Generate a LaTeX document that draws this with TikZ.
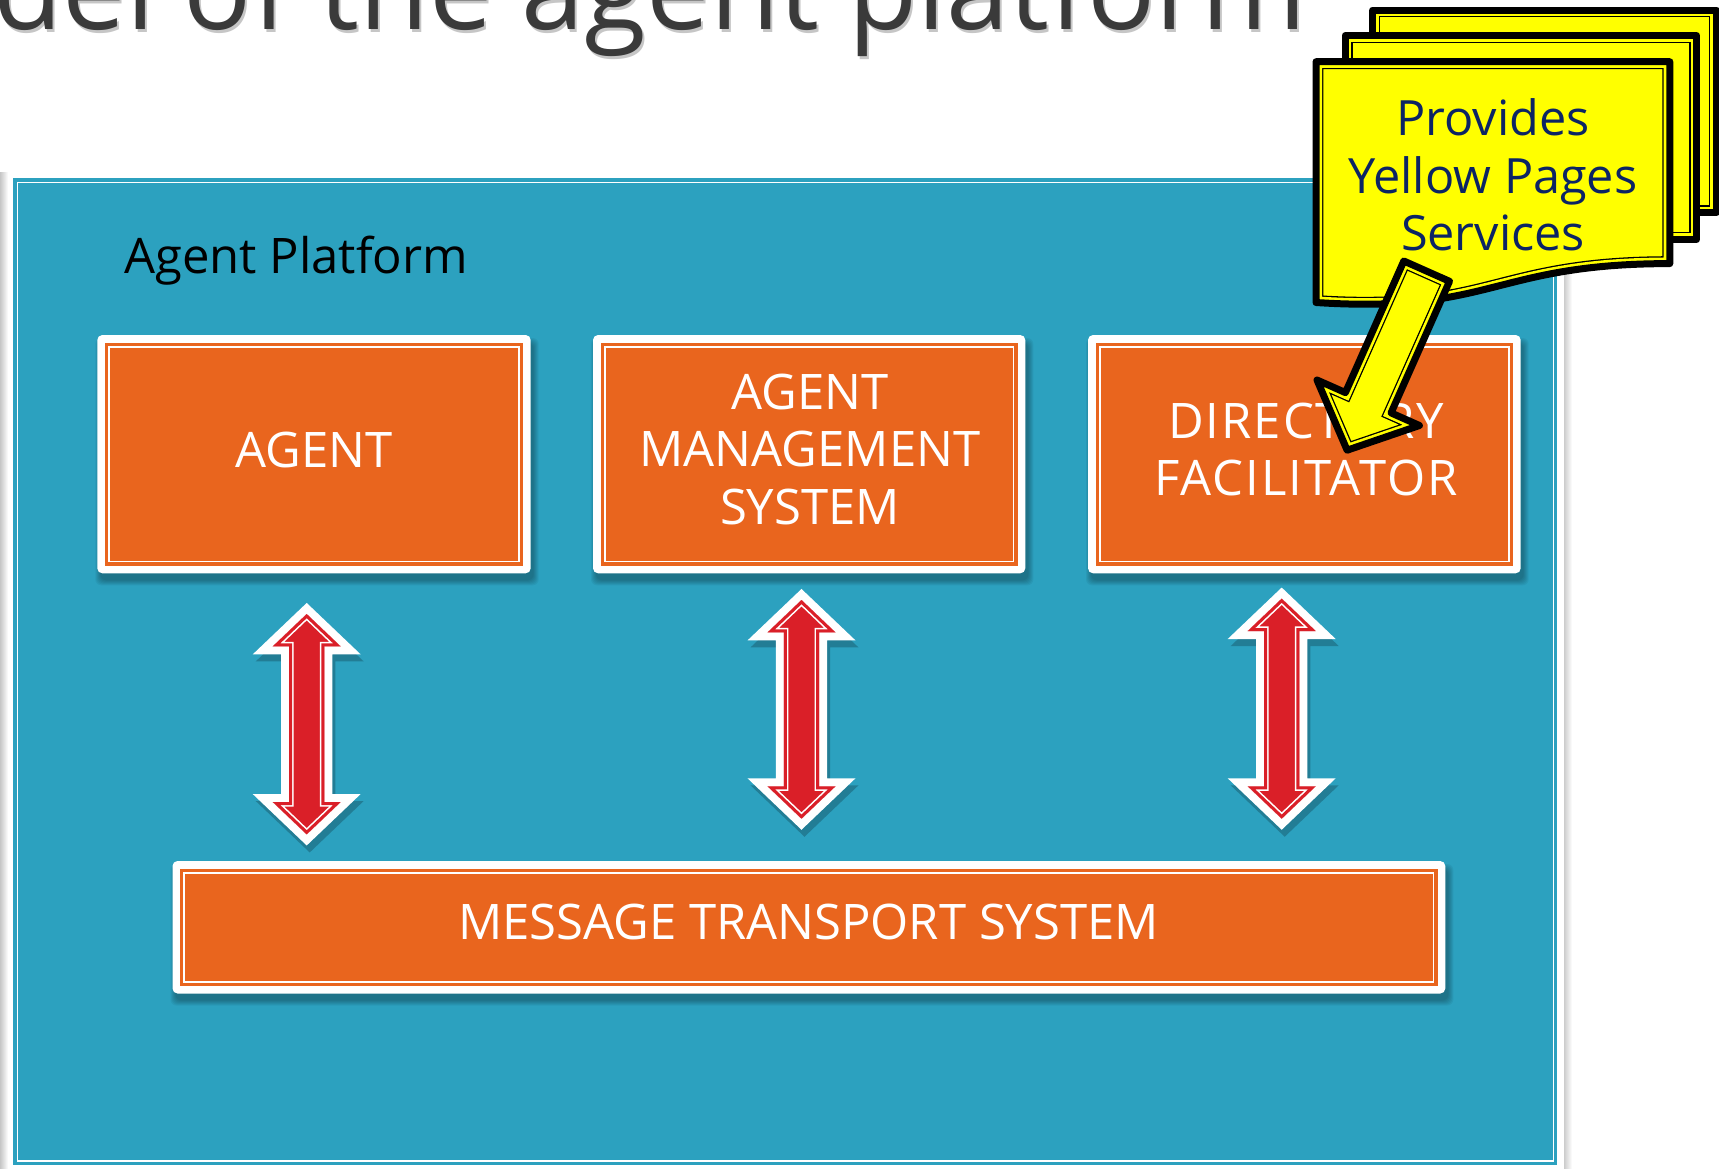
\documentclass[tikz,border=0pt]{standalone}
\usepackage{fontspec}
\setmainfont{Open Sans}
\usetikzlibrary{fit}
\definecolor{tealC}{RGB}{44,161,191}
\definecolor{orangeC}{RGB}{233,101,30}
\definecolor{redC}{RGB}{218,31,40}
\definecolor{yelC}{RGB}{255,255,0}
\definecolor{navyC}{RGB}{12,36,100}
\definecolor{titleC}{RGB}{58,58,58}

\tikzset{
  boxlabel/.style={anchor=base, inner sep=0pt, text=white, font=\fontsize{24.5}{29}\selectfont},
  widelabel/.style={boxlabel, font=\fontsize{24.5}{29}\selectfont\addfontfeatures{LetterSpace=4}},
  calltext/.style={anchor=base, inner sep=0pt, text=navyC, font=\fontsize{24.3}{28}\selectfont},
}

% orange framed box: name, x1, y1, x2, y2
\newcommand\obox[5]{%
  \foreach \k in {0,1,2,3,4,5}{%
    \fill[black, opacity=0.05, rounded corners=3pt] ({#2+3-\k},{#3+8-\k}) rectangle ({#4+3+\k},{#5+7+\k});
  }
  \fill[white, rounded corners=2.5pt] (#2,#3) rectangle (#4,#5);
  \fill[orangeC] ({#2+7.7},{#3+7.7}) rectangle ({#4-7.7},{#5-7.7});
  \draw[white, line width=0.85pt] ({#2+11.8},{#3+11.8}) rectangle ({#4-11.8},{#5-11.8});
  \node[fit={(#2,#3) (#4,#5)}, inner sep=0pt] (#1) {};
}

% red double arrow: centre x, top tip, bottom tip (outer white)
\newcommand\redarrow[3]{%
  \def\rarrow{(#1,{#2+11.3}) -- ({#1+34},{#2+43.7}) -- ({#1+17.7},{#2+43.7}) -- ({#1+17.7},{#3-43.7}) -- ({#1+34},{#3-43.7}) -- (#1,{#3-11.3}) -- ({#1-34},{#3-43.7}) -- ({#1-17.7},{#3-43.7}) -- ({#1-17.7},{#2+43.7}) -- ({#1-34},{#2+43.7}) -- cycle}%
  \begin{scope}[shift={(3,7)}, transparency group, opacity=0.22]
    \filldraw[black, line width=8pt, line join=miter] \rarrow;
  \end{scope}
  \filldraw[white, line width=8pt, line join=miter] \rarrow;
  \fill[redC] \rarrow;
  \begin{scope}
    \clip \rarrow;
    \draw[white, line width=4.6pt] \rarrow;
    \draw[redC, line width=3pt] \rarrow;
  \end{scope}
}

% yellow shape with heavy black border and thin inner line
\newcommand\yshape[1]{%
  \fill[yelC] #1;
  \begin{scope}
    \clip #1;
    \draw[black, line width=7.4pt] #1;
    \draw[yelC, line width=6.1pt] #1;
  \end{scope}
  \draw[black, line width=3.5pt, line join=round] #1;
}

\begin{document}
\begin{tikzpicture}[x=0.5pt, y=-0.5pt]
\useasboundingbox (0,0) rectangle (1719,1168);
\fill[white] (0,0) rectangle (1719,1168);

% frame shadows
\shade[left color=gray!45, right color=white] (0,172) rectangle (8,1168);
\shade[left color=gray!40, right color=white] (1564,172) rectangle (1572,1168);

% platform panel
\node[fit={(13,178) (1557,1165)}, inner sep=0pt, fill=tealC] (platform) {};
\draw[white, line width=0.8pt] (17.5,182.5) rectangle (1553.5,1161);
\node[anchor=base west, inner sep=0pt, font=\fontsize{24.5}{29}\selectfont] (aplabel) at (124,273.3) {Agent Platform};

% boxes
\obox{agent}{97.3}{335}{530.7}{573.3}
\obox{ams}{593}{335}{1025.3}{573.3}
\obox{df}{1088}{335}{1520.7}{573.3}
\obox{mts}{172.5}{861}{1445.3}{993.5}

\node[boxlabel] (agentt) at (314.2,467.3) {AGENT};
\node[boxlabel] (amst1) at (810,409.3) {AGENT};
\node[boxlabel] (amst2) at (810,466.7) {MANAGEMENT};
\node[boxlabel] (amst3) at (810,524) {SYSTEM};
\node[widelabel] (dft1) at (1306,438.3) {DIRECTORY};
\node[widelabel] (dft2) at (1306,495.7) {FACILITATOR};
\node[boxlabel] (mtst) at (808.5,939.3) {MESSAGE TRANSPORT SYSTEM};

% red double arrows between boxes and the transport system
\redarrow{306.7}{602.7}{845.7}
\redarrow{801.5}{588.7}{830}
\redarrow{1281.7}{587.3}{830}

% yellow pages callout (multi-document)
\def\backsheet{(1372.6,10) -- (1716,10) -- (1716,212.6) -- (1372.6,212.6) -- cycle}
\def\midsheet{(1345.2,35.5) -- (1696.6,35.5) -- (1696.6,239.5) -- (1345.2,239.5) -- cycle}
\def\frontsheet{(1316,61.7) -- (1669.8,61.7) -- (1669.8,263.6) .. controls (1492.9,263.6) and (1492.9,314) .. (1316,302.5) -- cycle}
\yshape{\backsheet}
\yshape{\midsheet}
\yshape{\frontsheet}
\node[fit={(1316,61.7) (1669.8,302.5)}, inner sep=0pt] (callout) {};
\node[calltext] (c1) at (1493,135) {Provides};
\node[calltext] (c2) at (1493,193.3) {Yellow Pages};
\node[calltext] (c3) at (1493,250.7) {Services};

% yellow block arrow to the directory facilitator
\def\yarrow{(1449.5,281.3) -- (1391.05,412.9) -- (1419.4,425.5) -- (1347.1,450.2) -- (1317.0,380.0) -- (1345.4,392.6) -- (1403.8,261.0) -- cycle}
\yshape{\yarrow}

% title (cut off at the top of the picture)
\node[anchor=base west, inner sep=0pt, text=gray!45, font=\fontsize{56.5}{60}\selectfont] at (-5,32) {del of the agent platform};
\node[anchor=base west, inner sep=0pt, text=titleC, font=\fontsize{56.5}{60}\selectfont] (title) at (-7,29.5) {del of the agent platform};
\end{tikzpicture}
\end{document}
